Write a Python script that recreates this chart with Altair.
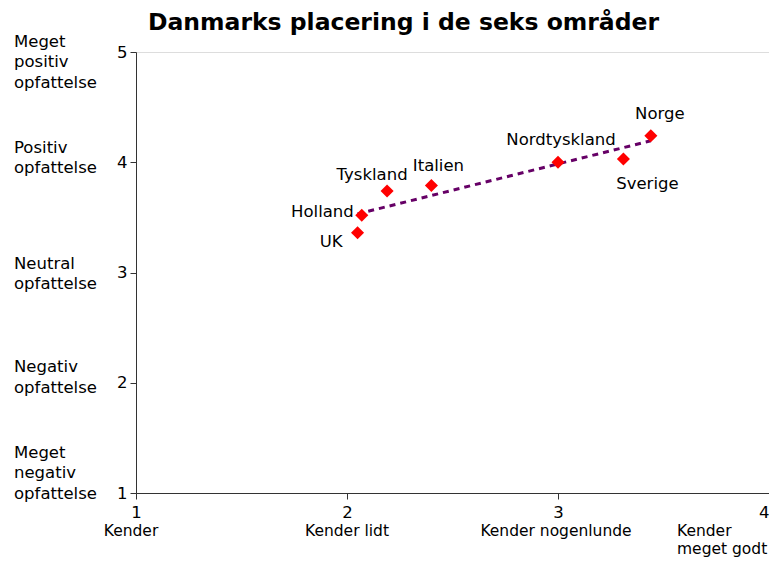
import altair as alt
import pandas as pd

# ---- data ----
countries = ["Holland", "UK", "Tyskland", "Italien", "Nordtyskland", "Sverige", "Norge"]
kendskab = [2.07, 2.05, 2.19, 2.40, 3.00, 3.31, 3.44]
opfattelse = [3.52, 3.36, 3.74, 3.79, 4.00, 4.03, 4.24]

y_levels = [5, 4, 3, 2, 1]
y_names = ["Meget\npositiv\nopfattelse", "Positiv\nopfattelse", "Neutral\nopfattelse",
           "Negativ\nopfattelse", "Meget\nnegativ\nopfattelse"]
x_levels = [1, 2, 3, 4]
x_names = ["Kender", "Kender lidt", "Kender nogenlunde", "Kender\nmeget godt"]

title_text = "Danmarks placering i de seks områder"

# ---- styles (offsets in pixels) ----
FONT = "DejaVu Sans"
FS = 16.5
PLOT_W, PLOT_H = 633, 441
label_style = {
    "Holland": dict(align="right", dx=-8, dy=-3),
    "UK": dict(align="right", dx=-15, dy=9),
    "Tyskland": dict(align="center", dx=-15, dy=-16),
    "Italien": dict(align="center", dx=7, dy=-19),
    "Nordtyskland": dict(align="center", dx=3, dy=-22),
    "Sverige": dict(align="center", dx=24, dy=25),
    "Norge": dict(align="center", dx=9, dy=-22),
}
ycat_dy = [-10.5, -14.75, -8.75, -15.75, -40.5]
xcat_style = [dict(align="center", dx=-5), dict(align="center", dx=0),
              dict(align="center", dx=-2), dict(align="left", dx=-92)]

df = pd.DataFrame({"land": countries, "kendskab": kendskab, "opfattelse": opfattelse})
ycat = pd.DataFrame({"level": y_levels, "name": y_names})
xcat = pd.DataFrame({"level": x_levels, "name": x_names})

xscale = alt.Scale(domain=[1, 4], nice=False, zero=False)
yscale = alt.Scale(domain=[1, 5], nice=False, zero=False)

x_axis = alt.Axis(
    values=x_levels, title=None, grid=False, format="d",
    labelFont=FONT, labelFontSize=FS, labelColor="#000000",
    labelPadding=5, tickSize=6, tickColor="#333333", domainColor="#333333",
    labelAlign={"condition": {"test": f"datum.value == {x_levels[-1]}", "value": "right"},
                "value": "center"},
    labelOverlap=False,
)
y_axis = alt.Axis(
    values=y_levels, title=None, grid=False, format="d",
    labelFont=FONT, labelFontSize=FS, labelColor="#000000",
    labelPadding=3, tickSize=6, tickColor="#333333", domainColor="#333333",
)

base = alt.Chart(df)

trend = base.transform_regression("kendskab", "opfattelse").mark_line(
    color="#660066", strokeWidth=3, strokeDash=[6, 5]
).encode(
    x=alt.X("kendskab:Q", scale=xscale, axis=x_axis),
    y=alt.Y("opfattelse:Q", scale=yscale, axis=y_axis),
)

points = base.mark_point(
    shape="diamond", filled=True, color="#ff0000", size=170, opacity=1
).encode(
    x=alt.X("kendskab:Q", scale=xscale),
    y=alt.Y("opfattelse:Q", scale=yscale),
)

layers = [trend, points]

for land, st in label_style.items():
    layers.append(
        base.transform_filter(alt.datum.land == land).mark_text(
            font=FONT, fontSize=FS, color="#000000", baseline="middle", **st
        ).encode(
            x=alt.X("kendskab:Q", scale=xscale),
            y=alt.Y("opfattelse:Q", scale=yscale),
            text="land:N",
        )
    )

# category names at the left of the value axis
for lvl, d in zip(y_levels, ycat_dy):
    layers.append(
        alt.Chart(ycat).transform_filter(alt.datum.level == lvl).mark_text(
            font=FONT, fontSize=FS, color="#000000", align="left", baseline="middle",
            lineBreak="\n", lineHeight=20.5, dy=d
        ).encode(
            x=alt.value(-122),
            y=alt.Y("level:Q", scale=yscale),
            text="name:N",
        )
    )

# category names below the x axis numbers
for lvl, st in zip(x_levels, xcat_style):
    layers.append(
        alt.Chart(xcat).transform_filter(alt.datum.level == lvl).mark_text(
            font=FONT, fontSize=15.5, color="#000000", baseline="middle",
            lineBreak="\n", lineHeight=18, **st
        ).encode(
            x=alt.X("level:Q", scale=xscale),
            y=alt.value(PLOT_H + 38),
            text="name:N",
        )
    )

chart = alt.layer(*layers).properties(
    width=PLOT_W,
    height=PLOT_H,
    autosize=alt.AutoSizeParams(type="none"),
    padding={"left": 128, "top": 44, "right": 0, "bottom": 64},
    title=alt.TitleParams(
        text=title_text, font=FONT, fontSize=23.5, fontWeight="bold", color="#000000",
        anchor="middle", dx=-49, dy=9, offset=8,
    ),
).configure_view(stroke=None).configure(background="white")

chart.save("out.html", embed_options={"renderer": "svg", "actions": False})
